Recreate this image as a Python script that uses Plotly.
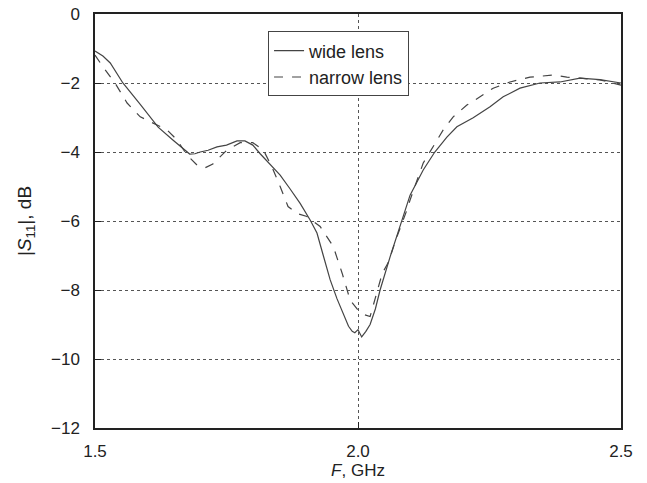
import plotly.graph_objects as go

wide_f = [1.500, 1.515, 1.529, 1.553, 1.586, 1.620, 1.648, 1.667, 1.680, 1.690, 1.700, 1.715,
          1.732, 1.750, 1.770, 1.785, 1.800, 1.814, 1.833, 1.852, 1.870, 1.890, 1.909, 1.922,
          1.934, 1.947, 1.960, 1.972, 1.982, 1.989, 1.994, 2.000, 2.007, 2.015, 2.023, 2.033,
          2.042, 2.061, 2.084, 2.099, 2.124, 2.146, 2.169, 2.188, 2.219, 2.251, 2.276, 2.308,
          2.346, 2.384, 2.422, 2.460, 2.500]
wide_s = [-1.07, -1.22, -1.42, -2.00, -2.62, -3.28, -3.65, -3.90, -4.06, -4.05, -4.00, -3.95,
          -3.85, -3.80, -3.68, -3.68, -3.80, -4.05, -4.35, -4.67, -5.05, -5.49, -5.97, -6.35,
          -7.00, -7.70, -8.25, -8.67, -9.05, -9.20, -9.24, -9.15, -9.36, -9.20, -9.00, -8.55,
          -8.00, -7.04, -5.97, -5.25, -4.52, -4.00, -3.57, -3.27, -3.01, -2.69, -2.40, -2.15,
          -2.00, -1.97, -1.86, -1.90, -2.00]

narrow_f = [1.500, 1.515, 1.538, 1.561, 1.586, 1.610, 1.637, 1.656, 1.675, 1.694, 1.709, 1.724,
            1.751, 1.776, 1.800, 1.820, 1.836, 1.852, 1.867, 1.884, 1.903, 1.928, 1.953, 1.970,
            1.985, 2.000, 2.013, 2.023, 2.032, 2.046, 2.057, 2.074, 2.093, 2.099, 2.124, 2.143,
            2.162, 2.181, 2.207, 2.232, 2.257, 2.289, 2.327, 2.371, 2.397, 2.422, 2.460, 2.500]
narrow_s = [-1.19, -1.53, -2.00, -2.58, -2.98, -3.16, -3.36, -3.65, -4.09, -4.38, -4.46, -4.35,
            -3.94, -3.73, -3.73, -3.94, -4.42, -5.00, -5.58, -5.78, -5.87, -6.16, -6.74, -7.52,
            -8.29, -8.58, -8.72, -8.77, -8.29, -7.52, -7.22, -6.46, -5.68, -5.39, -4.32, -3.86,
            -3.36, -2.98, -2.64, -2.40, -2.15, -1.97, -1.83, -1.77, -1.83, -1.86, -1.91, -2.06]

x_ticks = [1.5, 2.0, 2.5]
x_tick_text = ["1.5", "2.0", "2.5"]
y_ticks = [0, -2, -4, -6, -8, -10, -12]

FONT = "Liberation Sans, Arial, Helvetica, sans-serif"

fig = go.Figure()
fig.add_trace(go.Scatter(x=wide_f, y=wide_s, mode="lines", name="wide lens",
                         line=dict(color="#444", width=1.2)))
fig.add_trace(go.Scatter(x=narrow_f, y=narrow_s, mode="lines", name="narrow lens",
                         line=dict(color="#444", width=1.2, dash="dash")))

fig.update_layout(
    width=647, height=483,
    margin=dict(l=95, r=26, t=14, b=55),
    paper_bgcolor="white", plot_bgcolor="white",
    font=dict(family=FONT, size=17, color="#222"),
    showlegend=True,
    legend=dict(x=0.329, y=0.958, xanchor="left", yanchor="top",
                bgcolor="white", bordercolor="#444", borderwidth=1,
                font=dict(size=18, family=FONT, color="#222"),
                tracegroupgap=0),
)
fig.update_xaxes(
    range=[1.5, 2.5], tickvals=x_ticks, ticktext=x_tick_text,
    showline=True, linecolor="#222", linewidth=1.5, mirror=True,
    ticks="inside", ticklen=6, tickcolor="#222",
    ticklabelstandoff=7, automargin=False,
    showgrid=True, gridcolor="#555", griddash="dot", gridwidth=1,
    zeroline=False,
    title=dict(text="<i>F</i>, GHz", standoff=4, font=dict(size=17)),
)
fig.update_yaxes(
    range=[-12, 0], tickvals=y_ticks,
    showline=True, linecolor="#222", linewidth=1.5, mirror=True,
    ticks="inside", ticklen=6, tickcolor="#222",
    ticklabelstandoff=10, automargin=False,
    showgrid=True, gridcolor="#555", griddash="dot", gridwidth=1,
    zeroline=False,
    title=dict(text="|<i>S</i><sub>11</sub>|, dB", standoff=14, font=dict(size=19)),
)

fig.write_html("out.html")
